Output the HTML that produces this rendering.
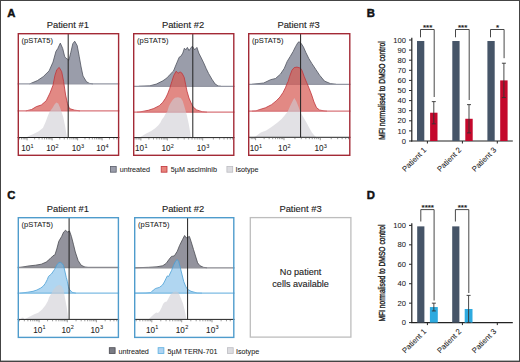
<!DOCTYPE html>
<html><head><meta charset="utf-8"><style>
html,body{margin:0;padding:0;background:#fff;width:520px;height:362px;overflow:hidden;}
svg{display:block;}
text{font-family:"Liberation Sans",sans-serif;stroke:#222;stroke-width:0.06px;}
.h{stroke-width:0.12px;}
</style></head><body>
<svg width="520" height="362" viewBox="0 0 520 362">
<rect width="520" height="362" fill="#fff"/>
<text x="7.3" y="16.6" font-size="11.3" font-weight="bold" fill="#111" style="stroke:#111;stroke-width:0.45px" font-family="Liberation Sans, sans-serif">A</text>
<text x="366.8" y="16.9" font-size="11.3" font-weight="bold" fill="#111" style="stroke:#111;stroke-width:0.45px" font-family="Liberation Sans, sans-serif">B</text>
<text x="7.3" y="199.3" font-size="11.3" font-weight="bold" fill="#111" style="stroke:#111;stroke-width:0.45px" font-family="Liberation Sans, sans-serif">C</text>
<text x="366.8" y="199.1" font-size="11.3" font-weight="bold" fill="#111" style="stroke:#111;stroke-width:0.45px" font-family="Liberation Sans, sans-serif">D</text>
<text class="h" x="67.8" y="27.7" font-size="9.4" fill="#222" text-anchor="middle" font-family="Liberation Sans, sans-serif">Patient #1</text>
<text class="h" x="183" y="27.7" font-size="9.4" fill="#222" text-anchor="middle" font-family="Liberation Sans, sans-serif">Patient #2</text>
<text class="h" x="298.5" y="27.7" font-size="9.4" fill="#222" text-anchor="middle" font-family="Liberation Sans, sans-serif">Patient #3</text>
<text class="h" x="67.8" y="211.8" font-size="9.4" fill="#222" text-anchor="middle" font-family="Liberation Sans, sans-serif">Patient #1</text>
<text class="h" x="183" y="211.8" font-size="9.4" fill="#222" text-anchor="middle" font-family="Liberation Sans, sans-serif">Patient #2</text>
<text class="h" x="300.5" y="211.8" font-size="9.4" fill="#222" text-anchor="middle" font-family="Liberation Sans, sans-serif">Patient #3</text>
<g>
<rect x="17.6" y="33.0" width="101.7" height="123.0" fill="#fff"/>
<path d="M29.6,83.9 L29.6,83.9 L37.4,80.6 L43.2,76.7 L49.1,70.9 L53.0,62.1 L55.9,51.5 L57.8,48.5 L60.3,43.1 L62.7,48.5 L64.6,56.3 L65.6,57.9 L67.5,59.2 L68.9,60.2 L70.8,52.4 L72.8,43.7 L74.7,41.2 L77.2,45.6 L79.2,56.3 L81.1,67.0 L83.0,76.0 L86.5,81.8 L89.5,83.4 L93.0,83.9 L93.0,83.9 Z" fill="#9a9daa" fill-opacity="1" stroke="none"/>
<path d="M29.6,83.9 L37.4,80.6 L43.2,76.7 L49.1,70.9 L53.0,62.1 L55.9,51.5 L57.8,48.5 L60.3,43.1 L62.7,48.5 L64.6,56.3 L65.6,57.9 L67.5,59.2 L68.9,60.2 L70.8,52.4 L72.8,43.7 L74.7,41.2 L77.2,45.6 L79.2,56.3 L81.1,67.0 L83.0,76.0 L86.5,81.8 L89.5,83.4 L93.0,83.9" fill="none" stroke="#50545f" stroke-width="0.8" stroke-linejoin="round"/>
<line x1="17.6" y1="83.9" x2="119.3" y2="83.9" stroke="#9598a4" stroke-width="1.3"/>
<path d="M25.8,110.9 L25.8,110.9 L31.6,109.5 L36.4,106.6 L41.3,105.0 L46.2,100.8 L50.0,93.0 L53.0,85.2 L54.9,75.5 L56.8,69.7 L59.2,67.4 L61.7,71.7 L63.6,81.4 L65.6,95.0 L67.5,103.7 L69.5,108.6 L74.3,110.1 L80.0,110.9 L80.0,110.9 Z" fill="#d75c54" fill-opacity="0.72" stroke="none"/>
<path d="M25.8,110.9 L31.6,109.5 L36.4,106.6 L41.3,105.0 L46.2,100.8 L50.0,93.0 L53.0,85.2 L54.9,75.5 L56.8,69.7 L59.2,67.4 L61.7,71.7 L63.6,81.4 L65.6,95.0 L67.5,103.7 L69.5,108.6 L74.3,110.1 L80.0,110.9" fill="none" stroke="#c0353b" stroke-width="0.8" stroke-linejoin="round"/>
<line x1="17.6" y1="110.9" x2="119.3" y2="110.9" stroke="#d8747a" stroke-width="1.3"/>
<path d="M26.5,137.5 L26.5,137.5 L28.1,136.3 L33.5,134.0 L38.8,131.3 L42.9,128.0 L45.6,121.9 L47.6,116.5 L49.6,111.8 L52.3,108.3 L54.5,104.5 L56.3,102.6 L58.3,103.5 L60.4,108.5 L63.1,116.5 L65.1,126.0 L66.4,134.0 L67.1,137.5 L67.1,137.5 Z" fill="#cfcdd4" fill-opacity="0.6" stroke="none"/>
<line x1="68.2" y1="33.0" x2="68.2" y2="137.5" stroke="#222" stroke-width="1"/>
<line x1="17.6" y1="137.5" x2="119.3" y2="137.5" stroke="#222" stroke-width="1"/>
<path d="M19.57,138.00v1.4 M21.55,138.00v1.4 M23.23,138.00v1.4 M24.68,138.00v1.4 M25.96,138.00v1.4 M27.10,138.00v2.4 M34.63,138.00v1.4 M39.03,138.00v1.4 M42.15,138.00v1.4 M44.57,138.00v1.4 M46.55,138.00v1.4 M48.23,138.00v1.4 M49.68,138.00v1.4 M50.96,138.00v1.4 M52.10,138.00v2.4 M59.78,138.00v1.4 M64.27,138.00v1.4 M67.45,138.00v1.4 M69.92,138.00v1.4 M71.94,138.00v1.4 M73.65,138.00v1.4 M75.13,138.00v1.4 M76.43,138.00v1.4 M77.60,138.00v2.4 M84.98,138.00v1.4 M89.29,138.00v1.4 M92.35,138.00v1.4 M94.72,138.00v1.4 M96.66,138.00v1.4 M98.30,138.00v1.4 M99.73,138.00v1.4 M100.98,138.00v1.4 M102.10,138.00v2.4 M109.48,138.00v1.4 M113.79,138.00v1.4 M116.85,138.00v1.4" stroke="#555" stroke-width="0.6"/>
<text x="21.2" y="151.0" font-size="8.2" fill="#222" font-family="Liberation Sans, sans-serif">10<tspan font-size="5.5" dx="0.3" dy="-3.3">1</tspan></text>
<text x="46.2" y="151.0" font-size="8.2" fill="#222" font-family="Liberation Sans, sans-serif">10<tspan font-size="5.5" dx="0.3" dy="-3.3">2</tspan></text>
<text x="71.7" y="151.0" font-size="8.2" fill="#222" font-family="Liberation Sans, sans-serif">10<tspan font-size="5.5" dx="0.3" dy="-3.3">3</tspan></text>
<text x="96.2" y="151.0" font-size="8.2" fill="#222" font-family="Liberation Sans, sans-serif">10<tspan font-size="5.5" dx="0.3" dy="-3.3">4</tspan></text>
<text x="21.6" y="42.8" font-size="7.5" fill="#222" font-family="Liberation Sans, sans-serif">(pSTAT5)</text>
<rect x="18.30" y="33.70" width="100.30" height="121.60" fill="none" stroke="#a32a36" stroke-width="1.4"/>
</g>
<g>
<rect x="133.0" y="33.0" width="101.5" height="123.0" fill="#fff"/>
<path d="M138.8,86.3 L138.8,86.3 L149.8,85.8 L156.3,84.1 L162.9,80.8 L167.0,77.9 L170.2,74.3 L173.5,71.0 L175.1,67.0 L176.8,62.9 L179.2,57.2 L180.8,56.3 L182.8,53.1 L184.4,48.2 L185.8,49.8 L187.4,47.4 L189.0,50.6 L190.7,48.2 L192.3,46.2 L194.7,49.8 L196.9,47.4 L198.8,53.1 L201.3,58.0 L203.7,62.9 L206.2,68.6 L208.6,73.5 L211.9,79.2 L215.2,84.1 L218.4,86.0 L221.0,86.3 L221.0,86.3 Z" fill="#9a9daa" fill-opacity="1" stroke="none"/>
<path d="M138.8,86.3 L149.8,85.8 L156.3,84.1 L162.9,80.8 L167.0,77.9 L170.2,74.3 L173.5,71.0 L175.1,67.0 L176.8,62.9 L179.2,57.2 L180.8,56.3 L182.8,53.1 L184.4,48.2 L185.8,49.8 L187.4,47.4 L189.0,50.6 L190.7,48.2 L192.3,46.2 L194.7,49.8 L196.9,47.4 L198.8,53.1 L201.3,58.0 L203.7,62.9 L206.2,68.6 L208.6,73.5 L211.9,79.2 L215.2,84.1 L218.4,86.0 L221.0,86.3" fill="none" stroke="#50545f" stroke-width="0.8" stroke-linejoin="round"/>
<line x1="133.0" y1="86.3" x2="234.5" y2="86.3" stroke="#9598a4" stroke-width="1.3"/>
<path d="M136.9,112.2 L136.9,112.2 L140.0,111.9 L148.3,110.3 L153.8,108.5 L159.3,105.7 L162.8,102.3 L165.6,98.1 L167.6,94.0 L169.7,88.5 L171.8,81.6 L173.8,75.4 L176.2,71.2 L178.0,73.3 L180.1,71.9 L182.1,73.3 L184.2,77.4 L185.6,84.3 L187.0,91.2 L189.0,98.1 L191.1,103.0 L193.2,107.1 L196.6,109.9 L202.2,111.7 L207.0,112.2 L207.0,112.2 Z" fill="#d75c54" fill-opacity="0.72" stroke="none"/>
<path d="M136.9,112.2 L140.0,111.9 L148.3,110.3 L153.8,108.5 L159.3,105.7 L162.8,102.3 L165.6,98.1 L167.6,94.0 L169.7,88.5 L171.8,81.6 L173.8,75.4 L176.2,71.2 L178.0,73.3 L180.1,71.9 L182.1,73.3 L184.2,77.4 L185.6,84.3 L187.0,91.2 L189.0,98.1 L191.1,103.0 L193.2,107.1 L196.6,109.9 L202.2,111.7 L207.0,112.2" fill="none" stroke="#c0353b" stroke-width="0.8" stroke-linejoin="round"/>
<line x1="133.0" y1="112.2" x2="234.5" y2="112.2" stroke="#d8747a" stroke-width="1.3"/>
<path d="M137.0,137.6 L137.0,137.6 L140.4,136.9 L145.8,133.7 L151.2,131.0 L155.2,128.3 L158.6,125.0 L160.6,122.3 L161.9,119.6 L163.9,116.9 L165.3,114.2 L167.3,111.5 L168.8,106.5 L170.7,102.8 L173.0,99.5 L175.0,97.8 L178.0,97.3 L180.8,98.0 L182.7,101.0 L184.1,105.5 L186.8,114.9 L188.8,124.3 L190.2,132.4 L190.9,137.6 L190.9,137.6 Z" fill="#cfcdd4" fill-opacity="0.6" stroke="none"/>
<line x1="192.8" y1="33.0" x2="192.8" y2="137.6" stroke="#222" stroke-width="1"/>
<line x1="133.0" y1="137.6" x2="234.5" y2="137.6" stroke="#222" stroke-width="1"/>
<path d="M135.04,138.10v1.4 M136.81,138.10v1.4 M138.34,138.10v1.4 M139.69,138.10v1.4 M140.90,138.10v2.4 M148.85,138.10v1.4 M153.50,138.10v1.4 M156.79,138.10v1.4 M159.35,138.10v1.4 M161.44,138.10v1.4 M163.21,138.10v1.4 M164.74,138.10v1.4 M166.09,138.10v1.4 M167.30,138.10v2.4 M177.96,138.10v1.4 M184.19,138.10v1.4 M188.61,138.10v1.4 M192.04,138.10v1.4 M194.85,138.10v1.4 M197.22,138.10v1.4 M199.27,138.10v1.4 M201.08,138.10v1.4 M202.70,138.10v2.4 M213.36,138.10v1.4 M219.59,138.10v1.4 M224.01,138.10v1.4 M227.44,138.10v1.4 M230.25,138.10v1.4 M232.62,138.10v1.4" stroke="#555" stroke-width="0.6"/>
<text x="135.0" y="151.1" font-size="8.2" fill="#222" font-family="Liberation Sans, sans-serif">10<tspan font-size="5.5" dx="0.3" dy="-3.3">1</tspan></text>
<text x="161.4" y="151.1" font-size="8.2" fill="#222" font-family="Liberation Sans, sans-serif">10<tspan font-size="5.5" dx="0.3" dy="-3.3">2</tspan></text>
<text x="196.8" y="151.1" font-size="8.2" fill="#222" font-family="Liberation Sans, sans-serif">10<tspan font-size="5.5" dx="0.3" dy="-3.3">3</tspan></text>
<text x="137.0" y="42.8" font-size="7.5" fill="#222" font-family="Liberation Sans, sans-serif">(pSTAT5)</text>
<rect x="133.70" y="33.70" width="100.10" height="121.60" fill="none" stroke="#a32a36" stroke-width="1.4"/>
</g>
<g>
<rect x="248.0" y="33.0" width="102.5" height="123.0" fill="#fff"/>
<path d="M251.9,84.3 L251.9,84.3 L263.7,83.0 L270.6,79.7 L275.5,78.5 L280.4,74.2 L284.3,68.3 L287.2,61.4 L290.2,56.5 L293.1,51.6 L295.5,46.7 L298.0,42.4 L299.4,41.8 L301.4,43.8 L303.3,46.7 L305.9,52.6 L308.8,58.5 L311.8,63.4 L315.7,69.3 L319.6,75.2 L324.5,81.1 L330.4,83.6 L336.0,84.3 L336.0,84.3 Z" fill="#9a9daa" fill-opacity="1" stroke="none"/>
<path d="M251.9,84.3 L263.7,83.0 L270.6,79.7 L275.5,78.5 L280.4,74.2 L284.3,68.3 L287.2,61.4 L290.2,56.5 L293.1,51.6 L295.5,46.7 L298.0,42.4 L299.4,41.8 L301.4,43.8 L303.3,46.7 L305.9,52.6 L308.8,58.5 L311.8,63.4 L315.7,69.3 L319.6,75.2 L324.5,81.1 L330.4,83.6 L336.0,84.3" fill="none" stroke="#50545f" stroke-width="0.8" stroke-linejoin="round"/>
<line x1="248.0" y1="84.3" x2="350.5" y2="84.3" stroke="#9598a4" stroke-width="1.3"/>
<path d="M251.9,111.2 L251.9,111.2 L256.0,110.9 L259.2,109.7 L265.4,107.8 L271.5,104.7 L276.2,100.9 L280.0,97.0 L283.1,92.4 L285.4,87.8 L286.9,84.0 L288.1,81.5 L289.6,76.5 L291.9,70.3 L294.2,67.6 L297.0,67.1 L300.4,68.1 L301.9,70.3 L304.2,76.5 L306.5,82.2 L309.2,88.5 L311.7,95.0 L314.0,102.0 L316.5,107.6 L319.5,110.0 L324.0,110.9 L327.0,111.2 L327.0,111.2 Z" fill="#d75c54" fill-opacity="0.72" stroke="none"/>
<path d="M251.9,111.2 L256.0,110.9 L259.2,109.7 L265.4,107.8 L271.5,104.7 L276.2,100.9 L280.0,97.0 L283.1,92.4 L285.4,87.8 L286.9,84.0 L288.1,81.5 L289.6,76.5 L291.9,70.3 L294.2,67.6 L297.0,67.1 L300.4,68.1 L301.9,70.3 L304.2,76.5 L306.5,82.2 L309.2,88.5 L311.7,95.0 L314.0,102.0 L316.5,107.6 L319.5,110.0 L324.0,110.9 L327.0,111.2" fill="none" stroke="#c0353b" stroke-width="0.8" stroke-linejoin="round"/>
<line x1="248.0" y1="111.2" x2="350.5" y2="111.2" stroke="#d8747a" stroke-width="1.3"/>
<path d="M253.0,137.3 L253.0,137.3 L255.4,136.6 L260.8,132.6 L266.2,130.5 L271.5,127.1 L276.9,123.1 L281.6,119.0 L285.0,115.0 L287.7,111.5 L290.4,105.5 L293.1,100.1 L294.4,98.1 L296.4,101.4 L298.5,106.8 L300.5,112.2 L303.2,116.9 L305.9,121.6 L309.2,127.7 L311.9,132.4 L314.6,135.7 L316.5,137.3 L316.5,137.3 Z" fill="#cfcdd4" fill-opacity="0.6" stroke="none"/>
<line x1="300.6" y1="33.0" x2="300.6" y2="137.3" stroke="#222" stroke-width="1"/>
<line x1="248.0" y1="137.3" x2="350.5" y2="137.3" stroke="#222" stroke-width="1"/>
<path d="M251.20,137.80v1.4 M252.85,137.80v1.4 M254.30,137.80v1.4 M255.60,137.80v2.4 M264.15,137.80v1.4 M269.15,137.80v1.4 M272.70,137.80v1.4 M275.45,137.80v1.4 M277.70,137.80v1.4 M279.60,137.80v1.4 M281.25,137.80v1.4 M282.70,137.80v1.4 M284.00,137.80v2.4 M294.93,137.80v1.4 M301.32,137.80v1.4 M305.85,137.80v1.4 M309.37,137.80v1.4 M312.25,137.80v1.4 M314.68,137.80v1.4 M316.78,137.80v1.4 M318.64,137.80v1.4 M320.30,137.80v2.4 M331.23,137.80v1.4 M337.62,137.80v1.4 M342.15,137.80v1.4 M345.67,137.80v1.4 M348.55,137.80v1.4" stroke="#555" stroke-width="0.6"/>
<text x="249.7" y="151.0" font-size="8.2" fill="#222" font-family="Liberation Sans, sans-serif">10<tspan font-size="5.5" dx="0.3" dy="-3.3">1</tspan></text>
<text x="278.1" y="151.0" font-size="8.2" fill="#222" font-family="Liberation Sans, sans-serif">10<tspan font-size="5.5" dx="0.3" dy="-3.3">2</tspan></text>
<text x="314.4" y="151.0" font-size="8.2" fill="#222" font-family="Liberation Sans, sans-serif">10<tspan font-size="5.5" dx="0.3" dy="-3.3">3</tspan></text>
<text x="252.0" y="42.8" font-size="7.5" fill="#222" font-family="Liberation Sans, sans-serif">(pSTAT5)</text>
<rect x="248.70" y="33.70" width="101.10" height="121.60" fill="none" stroke="#a32a36" stroke-width="1.4"/>
</g>
<g>
<rect x="17.6" y="217.0" width="101.5" height="121.1" fill="#fff"/>
<path d="M19.9,267.5 L19.9,267.5 L27.7,266.1 L35.5,265.2 L41.3,264.2 L46.2,262.1 L50.0,258.8 L53.0,255.8 L54.9,254.9 L56.8,249.0 L58.8,241.3 L61.7,236.4 L63.6,232.1 L65.6,230.2 L67.5,232.1 L69.5,231.0 L71.4,236.4 L73.4,244.2 L75.3,252.0 L78.2,260.7 L81.1,265.2 L85.0,267.1 L88.0,267.5 L88.0,267.5 Z" fill="#93939d" fill-opacity="1" stroke="none"/>
<path d="M19.9,267.5 L27.7,266.1 L35.5,265.2 L41.3,264.2 L46.2,262.1 L50.0,258.8 L53.0,255.8 L54.9,254.9 L56.8,249.0 L58.8,241.3 L61.7,236.4 L63.6,232.1 L65.6,230.2 L67.5,232.1 L69.5,231.0 L71.4,236.4 L73.4,244.2 L75.3,252.0 L78.2,260.7 L81.1,265.2 L85.0,267.1 L88.0,267.5" fill="none" stroke="#4a4b52" stroke-width="0.8" stroke-linejoin="round"/>
<line x1="17.6" y1="267.5" x2="119.1" y2="267.5" stroke="#8a8a90" stroke-width="1.3"/>
<path d="M19.9,293.2 L19.9,293.2 L27.8,292.2 L33.0,291.3 L36.9,290.0 L40.8,288.0 L43.4,286.0 L45.3,283.4 L47.3,279.5 L48.5,276.4 L51.4,274.0 L54.4,269.7 L57.3,264.2 L59.0,262.6 L60.7,262.4 L62.4,263.8 L63.5,265.5 L65.1,272.1 L66.3,277.5 L67.4,281.5 L68.4,286.5 L69.4,289.3 L72.0,292.3 L76.0,293.2 L76.0,293.2 Z" fill="#7cbae8" fill-opacity="0.6" stroke="none"/>
<path d="M19.9,293.2 L27.8,292.2 L33.0,291.3 L36.9,290.0 L40.8,288.0 L43.4,286.0 L45.3,283.4 L47.3,279.5 L48.5,276.4 L51.4,274.0 L54.4,269.7 L57.3,264.2 L59.0,262.6 L60.7,262.4 L62.4,263.8 L63.5,265.5 L65.1,272.1 L66.3,277.5 L67.4,281.5 L68.4,286.5 L69.4,289.3 L72.0,292.3 L76.0,293.2" fill="none" stroke="#4a9fd6" stroke-width="0.8" stroke-linejoin="round"/>
<line x1="17.6" y1="293.2" x2="119.1" y2="293.2" stroke="#7dbbe3" stroke-width="1.3"/>
<path d="M20.9,319.4 L20.9,319.4 L21.8,317.6 L23.4,317.8 L24.5,319.4 L26.0,318.4 L30.4,316.2 L34.3,314.2 L38.2,312.8 L42.1,309.5 L45.3,305.5 L47.9,301.0 L49.2,297.1 L51.2,293.8 L53.5,289.5 L56.5,286.0 L59.5,284.8 L62.0,286.5 L63.8,291.0 L64.8,297.0 L66.8,307.5 L68.0,316.6 L68.4,319.4 L68.4,319.4 Z" fill="#cfcdd4" fill-opacity="0.6" stroke="none"/>
<line x1="69.1" y1="217.0" x2="69.1" y2="319.4" stroke="#222" stroke-width="1"/>
<line x1="17.6" y1="319.4" x2="119.1" y2="319.4" stroke="#222" stroke-width="1"/>
<path d="M19.39,319.90v1.4 M24.35,319.90v1.4 M27.88,319.90v1.4 M30.61,319.90v1.4 M32.84,319.90v1.4 M34.73,319.90v1.4 M36.37,319.90v1.4 M37.81,319.90v1.4 M39.10,319.90v2.4 M47.59,319.90v1.4 M52.55,319.90v1.4 M56.08,319.90v1.4 M58.81,319.90v1.4 M61.04,319.90v1.4 M62.93,319.90v1.4 M64.57,319.90v1.4 M66.01,319.90v1.4 M67.30,319.90v2.4 M76.06,319.90v1.4 M81.18,319.90v1.4 M84.82,319.90v1.4 M87.64,319.90v1.4 M89.94,319.90v1.4 M91.89,319.90v1.4 M93.58,319.90v1.4 M95.07,319.90v1.4 M96.40,319.90v2.4 M105.16,319.90v1.4 M110.28,319.90v1.4 M113.92,319.90v1.4 M116.74,319.90v1.4" stroke="#555" stroke-width="0.6"/>
<text x="33.2" y="332.7" font-size="8.2" fill="#222" font-family="Liberation Sans, sans-serif">10<tspan font-size="5.5" dx="0.3" dy="-3.3">1</tspan></text>
<text x="61.4" y="332.7" font-size="8.2" fill="#222" font-family="Liberation Sans, sans-serif">10<tspan font-size="5.5" dx="0.3" dy="-3.3">2</tspan></text>
<text x="90.5" y="332.7" font-size="8.2" fill="#222" font-family="Liberation Sans, sans-serif">10<tspan font-size="5.5" dx="0.3" dy="-3.3">3</tspan></text>
<text x="21.6" y="226.8" font-size="7.5" fill="#222" font-family="Liberation Sans, sans-serif">(pSTAT5)</text>
<rect x="18.30" y="217.70" width="100.10" height="119.70" fill="none" stroke="#4f9ccc" stroke-width="1.4"/>
</g>
<g>
<rect x="134.0" y="217.0" width="100.5" height="121.1" fill="#fff"/>
<path d="M135.0,267.8 L135.0,267.8 L148.5,267.3 L157.0,266.8 L162.8,265.7 L166.2,263.4 L169.1,259.3 L171.5,256.4 L172.8,256.2 L174.4,255.8 L177.3,251.2 L179.6,245.4 L182.5,239.6 L184.6,235.5 L186.2,237.8 L187.6,237.4 L189.4,236.4 L191.2,241.9 L193.5,249.5 L195.8,257.0 L197.6,262.8 L199.9,265.7 L203.4,267.3 L207.0,267.8 L207.0,267.8 Z" fill="#93939d" fill-opacity="1" stroke="none"/>
<path d="M135.0,267.8 L148.5,267.3 L157.0,266.8 L162.8,265.7 L166.2,263.4 L169.1,259.3 L171.5,256.4 L172.8,256.2 L174.4,255.8 L177.3,251.2 L179.6,245.4 L182.5,239.6 L184.6,235.5 L186.2,237.8 L187.6,237.4 L189.4,236.4 L191.2,241.9 L193.5,249.5 L195.8,257.0 L197.6,262.8 L199.9,265.7 L203.4,267.3 L207.0,267.8" fill="none" stroke="#4a4b52" stroke-width="0.8" stroke-linejoin="round"/>
<line x1="134.0" y1="267.8" x2="234.5" y2="267.8" stroke="#8a8a90" stroke-width="1.3"/>
<path d="M135.0,293.2 L135.0,293.2 L146.0,293.0 L150.9,292.5 L153.4,290.0 L155.8,288.4 L159.4,287.4 L162.5,285.0 L164.3,282.0 L166.1,278.3 L167.3,275.9 L168.6,276.5 L169.8,274.1 L171.6,270.4 L173.4,265.6 L175.2,261.9 L177.1,259.5 L178.6,261.3 L180.1,266.8 L181.9,274.1 L183.7,281.4 L185.6,286.2 L187.4,289.2 L191.0,291.3 L197.1,293.0 L202.0,293.2 L202.0,293.2 Z" fill="#7cbae8" fill-opacity="0.6" stroke="none"/>
<path d="M135.0,293.2 L146.0,293.0 L150.9,292.5 L153.4,290.0 L155.8,288.4 L159.4,287.4 L162.5,285.0 L164.3,282.0 L166.1,278.3 L167.3,275.9 L168.6,276.5 L169.8,274.1 L171.6,270.4 L173.4,265.6 L175.2,261.9 L177.1,259.5 L178.6,261.3 L180.1,266.8 L181.9,274.1 L183.7,281.4 L185.6,286.2 L187.4,289.2 L191.0,291.3 L197.1,293.0 L202.0,293.2" fill="none" stroke="#4a9fd6" stroke-width="0.8" stroke-linejoin="round"/>
<line x1="134.0" y1="293.2" x2="234.5" y2="293.2" stroke="#7dbbe3" stroke-width="1.3"/>
<path d="M148.5,319.4 L148.5,319.4 L150.4,317.5 L153.3,314.8 L156.2,312.5 L158.0,313.0 L159.7,311.3 L161.5,307.8 L163.2,303.8 L164.9,302.0 L166.7,301.5 L168.4,298.6 L170.2,295.1 L171.3,293.7 L173.5,292.0 L176.0,291.5 L178.5,292.5 L180.6,297.4 L182.9,303.2 L184.7,310.2 L185.8,316.0 L186.4,319.4 L186.4,319.4 Z" fill="#cfcdd4" fill-opacity="0.6" stroke="none"/>
<line x1="187.6" y1="217.0" x2="187.6" y2="319.4" stroke="#222" stroke-width="1"/>
<line x1="134.0" y1="319.4" x2="234.5" y2="319.4" stroke="#222" stroke-width="1"/>
<path d="M136.17,319.90v1.4 M139.90,319.90v1.4 M142.80,319.90v1.4 M145.17,319.90v1.4 M147.17,319.90v1.4 M148.90,319.90v1.4 M150.43,319.90v1.4 M151.80,319.90v2.4 M160.80,319.90v1.4 M166.07,319.90v1.4 M169.80,319.90v1.4 M172.70,319.90v1.4 M175.07,319.90v1.4 M177.07,319.90v1.4 M178.80,319.90v1.4 M180.33,319.90v1.4 M181.70,319.90v2.4 M190.82,319.90v1.4 M196.16,319.90v1.4 M199.94,319.90v1.4 M202.88,319.90v1.4 M205.28,319.90v1.4 M207.31,319.90v1.4 M209.06,319.90v1.4 M210.61,319.90v1.4 M212.00,319.90v2.4 M221.12,319.90v1.4 M226.46,319.90v1.4 M230.24,319.90v1.4" stroke="#555" stroke-width="0.6"/>
<text x="145.9" y="332.7" font-size="8.2" fill="#222" font-family="Liberation Sans, sans-serif">10<tspan font-size="5.5" dx="0.3" dy="-3.3">1</tspan></text>
<text x="175.8" y="332.7" font-size="8.2" fill="#222" font-family="Liberation Sans, sans-serif">10<tspan font-size="5.5" dx="0.3" dy="-3.3">2</tspan></text>
<text x="206.1" y="332.7" font-size="8.2" fill="#222" font-family="Liberation Sans, sans-serif">10<tspan font-size="5.5" dx="0.3" dy="-3.3">3</tspan></text>
<text x="138.0" y="226.8" font-size="7.5" fill="#222" font-family="Liberation Sans, sans-serif">(pSTAT5)</text>
<rect x="134.70" y="217.70" width="99.10" height="119.70" fill="none" stroke="#4f9ccc" stroke-width="1.4"/>
</g>
<rect x="250.3" y="217.6" width="100.6" height="119.5" fill="#fff" stroke="#bdbdbd" stroke-width="1.3"/>
<text class="h" x="300.6" y="274.8" font-size="9.1" fill="#222" text-anchor="middle" font-family="Liberation Sans, sans-serif">No patient</text>
<text class="h" x="300.6" y="286.5" font-size="9.1" fill="#222" text-anchor="middle" font-family="Liberation Sans, sans-serif">cells available</text>
<rect x="110.40" y="166.40" width="5.8" height="5.8" fill="#9a9daa" stroke="#5a5e6a" stroke-width="0.8"/>
<text x="119.7" y="172.2" font-size="7.2" fill="#222" font-family="Liberation Sans, sans-serif">untreated</text>
<rect x="161.20" y="166.40" width="5.8" height="5.8" fill="#e8847c" stroke="#c0353b" stroke-width="0.8"/>
<text x="170.8" y="172.2" font-size="7.2" fill="#222" font-family="Liberation Sans, sans-serif">5µM asciminib</text>
<rect x="226.90" y="166.40" width="5.8" height="5.8" fill="#dcdce0" stroke="#bdbdc2" stroke-width="0.8"/>
<text x="235.4" y="172.2" font-size="7.2" fill="#222" font-family="Liberation Sans, sans-serif">Isotype</text>
<rect x="109.30" y="347.70" width="5.8" height="5.8" fill="#7a7b84" stroke="#4a4b52" stroke-width="0.8"/>
<text x="118.5" y="353.5" font-size="7.2" fill="#222" font-family="Liberation Sans, sans-serif">untreated</text>
<rect x="158.10" y="347.70" width="5.8" height="5.8" fill="#b0d4f2" stroke="#5aaee0" stroke-width="0.8"/>
<text x="167.5" y="353.5" font-size="7.2" fill="#222" font-family="Liberation Sans, sans-serif">5µM TERN-701</text>
<rect x="227.40" y="347.70" width="5.8" height="5.8" fill="#dcdce0" stroke="#bdbdc2" stroke-width="0.8"/>
<text x="236" y="353.5" font-size="7.2" fill="#222" font-family="Liberation Sans, sans-serif">Isotype</text>
<line x1="411.8" y1="37.8" x2="411.8" y2="141.5" stroke="#222" stroke-width="1.2"/>
<line x1="411.2" y1="141" x2="512.8" y2="141" stroke="#222" stroke-width="1.2"/>
<line x1="409.0" y1="141.00" x2="411.8" y2="141.00" stroke="#222" stroke-width="1"/>
<text x="406" y="143.60" font-size="7.6" fill="#222" text-anchor="end" font-family="Liberation Sans, sans-serif">0</text>
<line x1="409.0" y1="130.90" x2="411.8" y2="130.90" stroke="#222" stroke-width="1"/>
<text x="406" y="133.50" font-size="7.6" fill="#222" text-anchor="end" font-family="Liberation Sans, sans-serif">10</text>
<line x1="409.0" y1="120.80" x2="411.8" y2="120.80" stroke="#222" stroke-width="1"/>
<text x="406" y="123.40" font-size="7.6" fill="#222" text-anchor="end" font-family="Liberation Sans, sans-serif">20</text>
<line x1="409.0" y1="110.70" x2="411.8" y2="110.70" stroke="#222" stroke-width="1"/>
<text x="406" y="113.30" font-size="7.6" fill="#222" text-anchor="end" font-family="Liberation Sans, sans-serif">30</text>
<line x1="409.0" y1="100.60" x2="411.8" y2="100.60" stroke="#222" stroke-width="1"/>
<text x="406" y="103.20" font-size="7.6" fill="#222" text-anchor="end" font-family="Liberation Sans, sans-serif">40</text>
<line x1="409.0" y1="90.50" x2="411.8" y2="90.50" stroke="#222" stroke-width="1"/>
<text x="406" y="93.10" font-size="7.6" fill="#222" text-anchor="end" font-family="Liberation Sans, sans-serif">50</text>
<line x1="409.0" y1="80.40" x2="411.8" y2="80.40" stroke="#222" stroke-width="1"/>
<text x="406" y="83.00" font-size="7.6" fill="#222" text-anchor="end" font-family="Liberation Sans, sans-serif">60</text>
<line x1="409.0" y1="70.30" x2="411.8" y2="70.30" stroke="#222" stroke-width="1"/>
<text x="406" y="72.90" font-size="7.6" fill="#222" text-anchor="end" font-family="Liberation Sans, sans-serif">70</text>
<line x1="409.0" y1="60.20" x2="411.8" y2="60.20" stroke="#222" stroke-width="1"/>
<text x="406" y="62.80" font-size="7.6" fill="#222" text-anchor="end" font-family="Liberation Sans, sans-serif">80</text>
<line x1="409.0" y1="50.10" x2="411.8" y2="50.10" stroke="#222" stroke-width="1"/>
<text x="406" y="52.70" font-size="7.6" fill="#222" text-anchor="end" font-family="Liberation Sans, sans-serif">90</text>
<line x1="409.0" y1="40.00" x2="411.8" y2="40.00" stroke="#222" stroke-width="1"/>
<text x="406" y="42.60" font-size="7.6" fill="#222" text-anchor="end" font-family="Liberation Sans, sans-serif">100</text>
<line x1="427.4" y1="141" x2="427.4" y2="143.5" stroke="#222" stroke-width="1"/>
<line x1="462.4" y1="141" x2="462.4" y2="143.5" stroke="#222" stroke-width="1"/>
<line x1="497.3" y1="141" x2="497.3" y2="143.5" stroke="#222" stroke-width="1"/>
<text transform="translate(385.3,90.50) rotate(-90)" x="0" y="0" font-size="8.2" fill="#1a1a1a" style="stroke:#1a1a1a;stroke-width:0.35px" text-anchor="middle" textLength="98.5" lengthAdjust="spacingAndGlyphs" font-family="Liberation Sans, sans-serif">MFI normalised to DMSO control</text>
<rect x="417" y="41.01" width="7.3" height="99.99" fill="#465568"/>
<rect x="430.1" y="112.72" width="7.4" height="28.28" fill="#c4082c"/>
<line x1="433.80" y1="101.61" x2="433.80" y2="123.83" stroke="#333" stroke-width="0.9"/>
<line x1="431.80" y1="101.61" x2="435.80" y2="101.61" stroke="#333" stroke-width="0.9"/>
<line x1="431.80" y1="123.83" x2="435.80" y2="123.83" stroke="#333" stroke-width="0.9"/>
<rect x="452.3" y="41.01" width="7.3" height="99.99" fill="#465568"/>
<rect x="465.3" y="118.78" width="7.4" height="22.22" fill="#c4082c"/>
<line x1="469.00" y1="104.64" x2="469.00" y2="132.92" stroke="#333" stroke-width="0.9"/>
<line x1="467.00" y1="104.64" x2="471.00" y2="104.64" stroke="#333" stroke-width="0.9"/>
<line x1="467.00" y1="132.92" x2="471.00" y2="132.92" stroke="#333" stroke-width="0.9"/>
<rect x="487.4" y="41.01" width="7.3" height="99.99" fill="#465568"/>
<rect x="500.2" y="80.40" width="7.4" height="60.60" fill="#c4082c"/>
<line x1="503.90" y1="63.23" x2="503.90" y2="97.57" stroke="#333" stroke-width="0.9"/>
<line x1="501.90" y1="63.23" x2="505.90" y2="63.23" stroke="#333" stroke-width="0.9"/>
<line x1="501.90" y1="97.57" x2="505.90" y2="97.57" stroke="#333" stroke-width="0.9"/>
<path d="M420.50,37.30 V29.50 H434.20 V97.00" fill="none" stroke="#333" stroke-width="0.9"/>
<text x="427.65" y="29.90" font-size="8" font-weight="bold" fill="#222" text-anchor="middle" font-family="Liberation Sans, sans-serif">***</text>
<path d="M455.50,37.30 V29.50 H469.20 V100.00" fill="none" stroke="#333" stroke-width="0.9"/>
<text x="462.65" y="29.90" font-size="8" font-weight="bold" fill="#222" text-anchor="middle" font-family="Liberation Sans, sans-serif">***</text>
<path d="M490.50,37.30 V29.50 H504.10 V58.20" fill="none" stroke="#333" stroke-width="0.9"/>
<text x="497.60" y="29.90" font-size="8" font-weight="bold" fill="#222" text-anchor="middle" font-family="Liberation Sans, sans-serif">*</text>
<text transform="translate(426.90,150.50) rotate(-45)" font-size="7.8" fill="#222" text-anchor="end" font-family="Liberation Sans, sans-serif">Patient 1</text>
<text transform="translate(461.90,150.50) rotate(-45)" font-size="7.8" fill="#222" text-anchor="end" font-family="Liberation Sans, sans-serif">Patient 2</text>
<text transform="translate(496.80,150.50) rotate(-45)" font-size="7.8" fill="#222" text-anchor="end" font-family="Liberation Sans, sans-serif">Patient 3</text>
<line x1="411.8" y1="223.3" x2="411.8" y2="323.1" stroke="#222" stroke-width="1.2"/>
<line x1="411.2" y1="322.6" x2="512.8" y2="322.6" stroke="#222" stroke-width="1.2"/>
<line x1="409.0" y1="322.60" x2="411.8" y2="322.60" stroke="#222" stroke-width="1"/>
<text x="406" y="325.20" font-size="7.6" fill="#222" text-anchor="end" font-family="Liberation Sans, sans-serif">0</text>
<line x1="409.0" y1="303.16" x2="411.8" y2="303.16" stroke="#222" stroke-width="1"/>
<text x="406" y="305.76" font-size="7.6" fill="#222" text-anchor="end" font-family="Liberation Sans, sans-serif">20</text>
<line x1="409.0" y1="283.72" x2="411.8" y2="283.72" stroke="#222" stroke-width="1"/>
<text x="406" y="286.32" font-size="7.6" fill="#222" text-anchor="end" font-family="Liberation Sans, sans-serif">40</text>
<line x1="409.0" y1="264.28" x2="411.8" y2="264.28" stroke="#222" stroke-width="1"/>
<text x="406" y="266.88" font-size="7.6" fill="#222" text-anchor="end" font-family="Liberation Sans, sans-serif">60</text>
<line x1="409.0" y1="244.84" x2="411.8" y2="244.84" stroke="#222" stroke-width="1"/>
<text x="406" y="247.44" font-size="7.6" fill="#222" text-anchor="end" font-family="Liberation Sans, sans-serif">80</text>
<line x1="409.0" y1="225.40" x2="411.8" y2="225.40" stroke="#222" stroke-width="1"/>
<text x="406" y="228.00" font-size="7.6" fill="#222" text-anchor="end" font-family="Liberation Sans, sans-serif">100</text>
<line x1="427.4" y1="322.6" x2="427.4" y2="325.1" stroke="#222" stroke-width="1"/>
<line x1="462.4" y1="322.6" x2="462.4" y2="325.1" stroke="#222" stroke-width="1"/>
<line x1="497.3" y1="322.6" x2="497.3" y2="325.1" stroke="#222" stroke-width="1"/>
<text transform="translate(385.3,273.10) rotate(-90)" x="0" y="0" font-size="8.2" fill="#1a1a1a" style="stroke:#1a1a1a;stroke-width:0.35px" text-anchor="middle" textLength="97.0" lengthAdjust="spacingAndGlyphs" font-family="Liberation Sans, sans-serif">MFI normalised to DMSO control</text>
<rect x="417.2" y="226.37" width="7.2" height="96.23" fill="#465568"/>
<rect x="429.9" y="307.05" width="7.9" height="15.55" fill="#2eaadf"/>
<line x1="433.85" y1="303.16" x2="433.85" y2="310.94" stroke="#333" stroke-width="0.9"/>
<line x1="431.85" y1="303.16" x2="435.85" y2="303.16" stroke="#333" stroke-width="0.9"/>
<line x1="431.85" y1="310.94" x2="435.85" y2="310.94" stroke="#333" stroke-width="0.9"/>
<rect x="452.2" y="226.37" width="7.2" height="96.23" fill="#465568"/>
<rect x="464.7" y="308.99" width="7.8" height="13.61" fill="#2eaadf"/>
<line x1="468.60" y1="295.38" x2="468.60" y2="322.60" stroke="#333" stroke-width="0.9"/>
<line x1="466.60" y1="295.38" x2="470.60" y2="295.38" stroke="#333" stroke-width="0.9"/>
<line x1="466.60" y1="322.60" x2="470.60" y2="322.60" stroke="#333" stroke-width="0.9"/>
<path d="M420.80,221.50 V209.60 H434.10 V300.50" fill="none" stroke="#333" stroke-width="0.9"/>
<text x="427.75" y="210.00" font-size="8" font-weight="bold" fill="#222" text-anchor="middle" font-family="Liberation Sans, sans-serif">****</text>
<path d="M455.40,221.50 V209.60 H468.80 V293.00" fill="none" stroke="#333" stroke-width="0.9"/>
<text x="462.40" y="210.00" font-size="8" font-weight="bold" fill="#222" text-anchor="middle" font-family="Liberation Sans, sans-serif">***</text>
<text transform="translate(426.90,332.00) rotate(-45)" font-size="7.8" fill="#222" text-anchor="end" font-family="Liberation Sans, sans-serif">Patient 1</text>
<text transform="translate(461.90,332.00) rotate(-45)" font-size="7.8" fill="#222" text-anchor="end" font-family="Liberation Sans, sans-serif">Patient 2</text>
<text transform="translate(496.80,332.00) rotate(-45)" font-size="7.8" fill="#222" text-anchor="end" font-family="Liberation Sans, sans-serif">Patient 3</text>
<rect x="0" y="0" width="520" height="1" fill="#444"/><rect x="0" y="0" width="1" height="362" fill="#444"/><rect x="519" y="0" width="1" height="362" fill="#444"/><rect x="0" y="360.6" width="520" height="1.4" fill="#444"/>
</svg>
</body></html>
